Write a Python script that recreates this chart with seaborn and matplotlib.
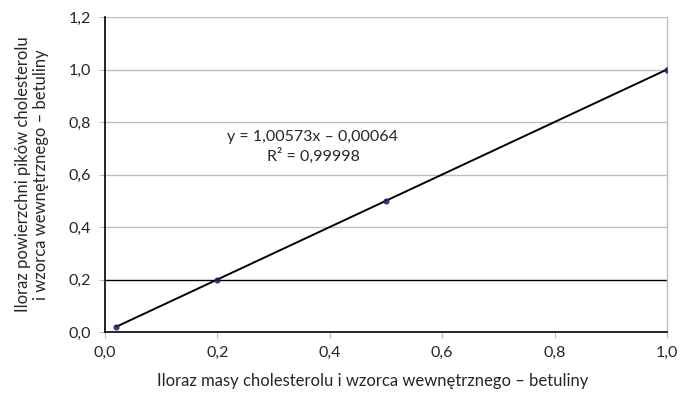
import numpy as np
import pandas as pd
import matplotlib
matplotlib.use("Agg")
import matplotlib.pyplot as plt
import seaborn as sns

mass_ratio = [0.02, 0.2, 0.5, 1.0]
area_ratio = [0.02, 0.2, 0.5, 1.0]
x_ticks = [0.0, 0.2, 0.4, 0.6, 0.8, 1.0]
y_ticks = [0.0, 0.2, 0.4, 0.6, 0.8, 1.0, 1.2]
equation_text = "y = 1,00573x – 0,00064\nR² = 0,99998"
x_label = "Iloraz masy cholesterolu i wzorca wewnętrznego – betuliny"
y_label = "Iloraz powierzchni pików cholesterolu\ni wzorca wewnętrznego – betuliny"

sns.set_style("white")
plt.rcParams['font.family'] = ['Lato', 'DejaVu Sans']

df = pd.DataFrame({"x": mass_ratio, "y": area_ratio})

fig = plt.figure(figsize=(6.8, 3.96), dpi=100)
ax = fig.add_axes([105/680, 1 - 332/396, (667-105)/680, (332-17)/396])

sns.regplot(data=df, x="x", y="y", ax=ax, ci=None, truncate=True,
            scatter_kws=dict(marker="D", s=12, color="#1f1f6e", zorder=3),
            line_kws=dict(color="black", lw=1.4, zorder=2))

ax.set_xlim(0, 1.0)
ax.set_ylim(0, 1.2)
ax.set_xticks(x_ticks)
ax.set_yticks(y_ticks)
fmt = lambda v: f"{v:.1f}".replace(".", ",")
ax.set_xticklabels([fmt(v) for v in x_ticks], fontsize=11.5)
ax.set_yticklabels([fmt(v) for v in y_ticks], fontsize=11.5)

for v in y_ticks[1:]:
    ax.axhline(v, color="black" if abs(v - 0.2) < 1e-9 else "#bdbdbd", lw=1.0, zorder=1)

for s in ["left", "bottom"]:
    ax.spines[s].set_color("black")
    ax.spines[s].set_linewidth(1.2)
ax.spines["top"].set_visible(False)
ax.spines["right"].set_color("#bdbdbd")
ax.spines["right"].set_linewidth(1.0)

ax.tick_params(axis="both", which="major", length=4, width=0.8, color="#bdbdbd",
               direction="out", pad=6, bottom=True, left=True)

ax.set_xlabel("")
fig.text(373/680, 1 - 381/396, x_label, ha="center", va="center", fontsize=12)
ax.set_ylabel(y_label, fontsize=12, labelpad=14, linespacing=1.15, multialignment="center")

ax.text(0.37, 0.705, equation_text, transform=ax.transData, ha="center", va="center",
        fontsize=11.5, linespacing=1.35, multialignment="center")

fig.savefig("out.png", dpi=100)
